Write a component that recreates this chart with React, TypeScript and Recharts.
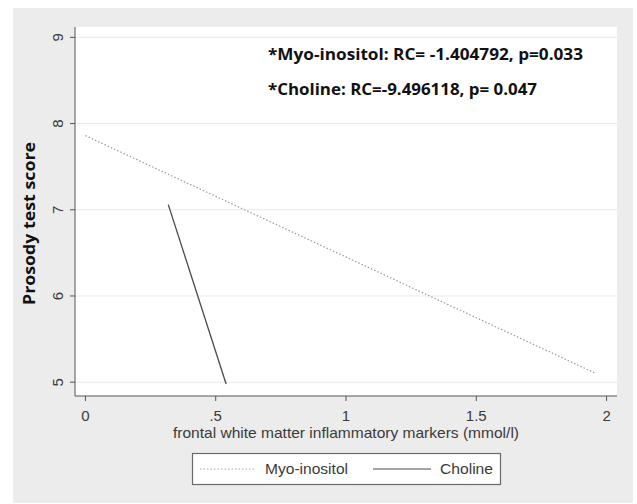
import React from "react";
import { LineChart, Line, XAxis, YAxis, CartesianGrid } from "recharts";

// fitted lines (x = marker mmol/l, y = prosody score)
const myoInositol = [
  { x: 0, y: 7.86 },
  { x: 1.96, y: 5.1 },
];
const choline = [
  { x: 0.318, y: 7.06 },
  { x: 0.54, y: 4.98 },
];
const xTicks = [0, 0.5, 1, 1.5, 2];
const yTicks = [5, 6, 7, 8, 9];
const notes = [
  "*Myo-inositol: RC= -1.404792, p=0.033",
  "*Choline: RC=-9.496118, p= 0.047",
];

const W = 637;
const H = 504;
const SANS = "'Liberation Sans', Arial, sans-serif";
const BOLD = "'Open Sans', 'Noto Sans', sans-serif";

const fmtX = (v: number) => (v === 0 ? "0" : String(v).replace(/^0\./, "."));

/* eslint-disable @typescript-eslint/no-explicit-any */
function YTick({ x, y, payload }: any) {
  const tx = x - 7;
  return (
    <text x={tx} y={y} transform={`rotate(-90, ${tx}, ${y})`} textAnchor="middle" fontSize={15} fill="#3a3a3a" fontFamily={SANS}>
      {payload.value}
    </text>
  );
}

function XTick({ x, y, payload }: any) {
  return (
    <text x={x} y={y + 20} textAnchor="middle" fontSize={15} fill="#3a3a3a" fontFamily={SANS}>
      {fmtX(payload.value)}
    </text>
  );
}
/* eslint-enable @typescript-eslint/no-explicit-any */

export default function App() {
  return (
    <div style={{ position: "absolute", left: 0, top: 0, width: W, height: H, background: "#fff" }}>
      <div style={{ position: "absolute", left: 13, top: 8, width: 620, height: 495, background: "#ececec" }} />
      <div style={{ position: "absolute", left: 0, top: 0 }}>
        <LineChart width={W} height={H} margin={{ top: 27, right: 20, left: 13, bottom: 78 }}>
          <CartesianGrid vertical={false} fill="#ffffff" stroke="#eaeaea" horizontalValues={yTicks} />
          <XAxis
            type="number"
            dataKey="x"
            domain={[-0.04, 2.04]}
            ticks={xTicks}
            height={30}
            tickSize={5}
            tickMargin={0}
            stroke="#555"
            tick={<XTick />}
            allowDataOverflow
          />
          <YAxis
            type="number"
            dataKey="y"
            domain={[4.84, 9.12]}
            ticks={yTicks}
            width={62}
            tickSize={5}
            tickMargin={0}
            stroke="#555"
            tick={<YTick />}
            allowDataOverflow
          />
          <Line
            data={myoInositol}
            dataKey="y"
            stroke="#9a9a9a"
            strokeWidth={1.2}
            strokeDasharray="1.5 2"
            dot={false}
            isAnimationActive={false}
          />
          <Line
            data={choline}
            dataKey="y"
            stroke="#4a4a4a"
            strokeWidth={1.3}
            dot={false}
            isAnimationActive={false}
          />
        </LineChart>
      </div>
      <svg width={W} height={H} style={{ position: "absolute", left: 0, top: 0, pointerEvents: "none" }}>
        <text x={268} y={60} fontFamily={BOLD} fontWeight={700} fontSize={15.5} fill="#111" textLength={315} lengthAdjust="spacingAndGlyphs">
          {notes[0]}
        </text>
        <text x={268} y={95} fontFamily={BOLD} fontWeight={700} fontSize={15.5} fill="#111" textLength={269} lengthAdjust="spacingAndGlyphs">
          {notes[1]}
        </text>
        <text
          x={35}
          y={305}
          transform="rotate(-90, 35, 305)"
          fontFamily={BOLD}
          fontWeight={700}
          fontSize={15.5}
          fill="#111"
          textLength={163}
          lengthAdjust="spacingAndGlyphs"
        >
          Prosody test score
        </text>
        <text x={173} y={438} fontFamily={SANS} fontSize={15} fill="#3a3a3a" textLength={346} lengthAdjust="spacingAndGlyphs">
          frontal white matter inflammatory markers (mmol/l)
        </text>
        <rect x={192.5} y={453.5} width={308} height={31} fill="#fff" stroke="#6a6a6a" strokeWidth={1.2} />
        <line x1={200} y1={469} x2={255} y2={469} stroke="#aaa" strokeWidth={1.2} strokeDasharray="1.5 2" />
        <text x={265} y={474} fontFamily={SANS} fontSize={15} fill="#3a3a3a" textLength={83} lengthAdjust="spacingAndGlyphs">
          Myo-inositol
        </text>
        <line x1={373} y1={469} x2={431} y2={469} stroke="#4a4a4a" strokeWidth={1.2} />
        <text x={440} y={474} fontFamily={SANS} fontSize={15} fill="#3a3a3a" textLength={53} lengthAdjust="spacingAndGlyphs">
          Choline
        </text>
      </svg>
    </div>
  );
}
